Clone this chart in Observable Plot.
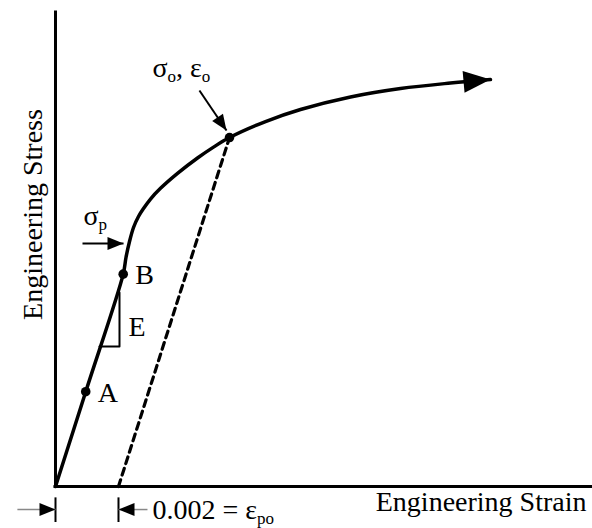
<!DOCTYPE html>
<html>
<head>
<meta charset="utf-8">
<script src="https://cdn.jsdelivr.net/npm/d3@7"></script>
<script src="https://cdn.jsdelivr.net/npm/@observablehq/plot@0.6"></script>
<style>
  html, body { margin: 0; padding: 0; background: #fff; }
  svg { display: block; }
</style>
</head>
<body>
<div id="chart"></div>
<script>
// ---- data (engineering strain, engineering stress in arbitrary units) ----
const curveStrain = [0, 0.00096, 0.00215, 0.002238, 0.00235, 0.002477, 0.002635, 0.002794, 0.003016, 0.003334, 0.003874, 0.004509, 0.005017, 0.005525, 0.006668, 0.007779, 0.009366, 0.010954, 0.012541, 0.013811];
const curveStress = [0, 100, 224, 241.6, 258.4, 273.2, 284.8, 293.2, 303.2, 314.5, 330.3, 346.5, 358.0, 368.1, 385.0, 397.7, 410.9, 419.8, 425.6, 429.3];

const pointNames  = ["A", "B", "yield"];
const pointStrain = [0.00096, 0.00215, 0.005525];
const pointStress = [100, 224, 368.1];

const offsetStrain = [0.002, 0.005525];   // 0.2% offset line
const offsetStress = [0, 368.1];

const triStrain = [0.001397, 0.002032, 0.002032]; // slope triangle (E)
const triStress = [147.7, 147.7, 204.6];

const markerStrain = [0, 0.002];          // strain markers under the axis

const xLabel = "Engineering Strain";
const yLabel = "Engineering Stress";
const offsetLabel = "0.002 = ε_{po}";
const propLabel = "σ_{p}";
const yieldLabel = "σ_{o}, ε_{o}";
const modulusLabel = "E";

// ---- build tables ----
const curve = curveStrain.map((x, i) => ({x, y: curveStress[i]}));
const points = pointNames.map((n, i) => ({n, x: pointStrain[i], y: pointStress[i]}));
const offsetLine = offsetStrain.map((x, i) => ({x, y: offsetStress[i]}));
const tri = triStrain.map((x, i) => ({x, y: triStress[i]}));
const markers = markerStrain.map(x => ({x}));

// annotation arrows (tail and tip positions, in data units)
const BOT = -24.3;
const arrows = [
  {x1: 0.000857, y1: 256.3, x2: 0.00216, y2: 256.3, ang: 0,   L: 16, W: 6.5, color: "#000", sw: 2},   // sigma_p
  {x1: 0.00457,  y1: 417.7, x2: 0.00543, y2: 375.5, ang: 56,  L: 16, W: 6.5, color: "#000", sw: 2},   // sigma_o
  {x1: -0.00121, y1: BOT,   x2: markerStrain[0], y2: BOT, ang: 0,   L: 16, W: 6.5, color: "#888", sw: 1.5},
  {x1: 0.00292,  y1: BOT,   x2: markerStrain[1], y2: BOT, ang: 180, L: 16, W: 6.5, color: "#888", sw: 1.5}
];

function headSymbol(angleDeg, L, W) {
  const a = angleDeg * Math.PI / 180, c = Math.cos(a), s = Math.sin(a);
  const pt = (u, v) => [u * c - v * s, u * s + v * c];
  return {
    draw(ctx) {
      const p0 = pt(0, 0), p1 = pt(-L, -W), p2 = pt(-L, W);
      ctx.moveTo(p0[0], p0[1]); ctx.lineTo(p1[0], p1[1]); ctx.lineTo(p2[0], p2[1]); ctx.closePath();
    }
  };
}

const FONT = "Liberation Serif";
const FS = 28;
const last = curve[curve.length - 1];

const marks = [
  // axes
  Plot.ruleX([0], {strokeWidth: 3, strokeLinecap: "square"}),
  Plot.ruleY([0], {strokeWidth: 3, strokeLinecap: "square"}),
  // offset (dashed) line
  Plot.line(offsetLine, {x: "x", y: "y", strokeWidth: 3.2, strokeDasharray: "7,5"}),
  // stress-strain curve
  Plot.line(curve, {x: "x", y: "y", strokeWidth: 3.5, curve: "catmull-rom"}),
  Plot.dot([last], {x: "x", y: "y", r: 5, symbol: headSymbol(-5, 27, 11), fill: "#000", stroke: null}),
  // slope triangle
  Plot.line(tri, {x: "x", y: "y", strokeWidth: 2}),
  // points
  Plot.dot(points, {x: "x", y: "y", r: 4.8, fill: "#000", stroke: null}),
  // marker ticks under axis
  Plot.ruleX(markers, {x: "x", y1: -12, y2: -38, strokeWidth: 2}),
  // annotation arrows
  ...arrows.flatMap(a => [
    Plot.link([a], {x1: "x1", y1: "y1", x2: "x2", y2: "y2", stroke: a.color, strokeWidth: a.sw}),
    Plot.dot([a], {x: "x2", y: "y2", r: 5, symbol: headSymbol(a.ang, a.L, a.W), fill: "#000", stroke: null})
  ]),
  // labels
  Plot.text(points.slice(0, 2), {x: "x", y: "y", text: "n", fontFamily: FONT, fontSize: FS, textAnchor: "start",
    dx: d => 0, dx: 12, dy: 1}),
  Plot.text([arrows[0]], {x: "x1", y: "y1", text: () => propLabel, fontFamily: FONT, fontSize: FS, textAnchor: "start", dx: 1, dy: -27}),
  Plot.text([arrows[1]], {x: "x1", y: "y1", text: () => yieldLabel, fontFamily: FONT, fontSize: FS, textAnchor: "start", dx: -47, dy: -22}),
  Plot.text([tri[2]], {x: "x", y: "y", text: () => modulusLabel, fontFamily: FONT, fontSize: FS, textAnchor: "start", dx: 9, dy: 34}),
  Plot.text([arrows[3]], {x: "x1", y: "y1", text: () => offsetLabel, fontFamily: FONT, fontSize: FS, textAnchor: "start", dx: 5, dy: 0}),
  Plot.text([xLabel], {frameAnchor: "bottom-right", textAnchor: "end", fontFamily: FONT, fontSize: FS, dx: -6, dy: 24}),
  Plot.text([yLabel], {frameAnchor: "left", textAnchor: "middle", rotate: -90, fontFamily: FONT, fontSize: FS, dx: -22, dy: -35})
];

const chart = Plot.plot({
  width: 592,
  height: 528,
  marginLeft: 55,
  marginRight: 0,
  marginTop: 12,
  marginBottom: 42,
  x: {domain: [0, 0.01705], axis: null},
  y: {domain: [0, 500], axis: null},
  style: {fontFamily: FONT, background: "#fff", color: "#000", overflow: "visible"},
  marks
});

// render "_{...}" as subscripts
chart.querySelectorAll("text").forEach(t => {
  const s = t.textContent;
  if (!s.includes("_{")) return;
  t.textContent = "";
  const parts = s.split(/(_\{[^}]*\})/).filter(p => p.length);
  let shifted = false;
  const NS = "http://www.w3.org/2000/svg";
  for (const p of parts) {
    const ts = document.createElementNS(NS, "tspan");
    const m = p.match(/^_\{([^}]*)\}$/);
    if (m) {
      ts.textContent = m[1];
      ts.setAttribute("font-size", "17");
      ts.setAttribute("dy", "5");
      shifted = true;
    } else {
      ts.textContent = p;
      if (shifted) { ts.setAttribute("dy", "-5"); shifted = false; }
    }
    t.appendChild(ts);
  }
});

document.getElementById("chart").appendChild(chart);
</script>
</body>
</html>
